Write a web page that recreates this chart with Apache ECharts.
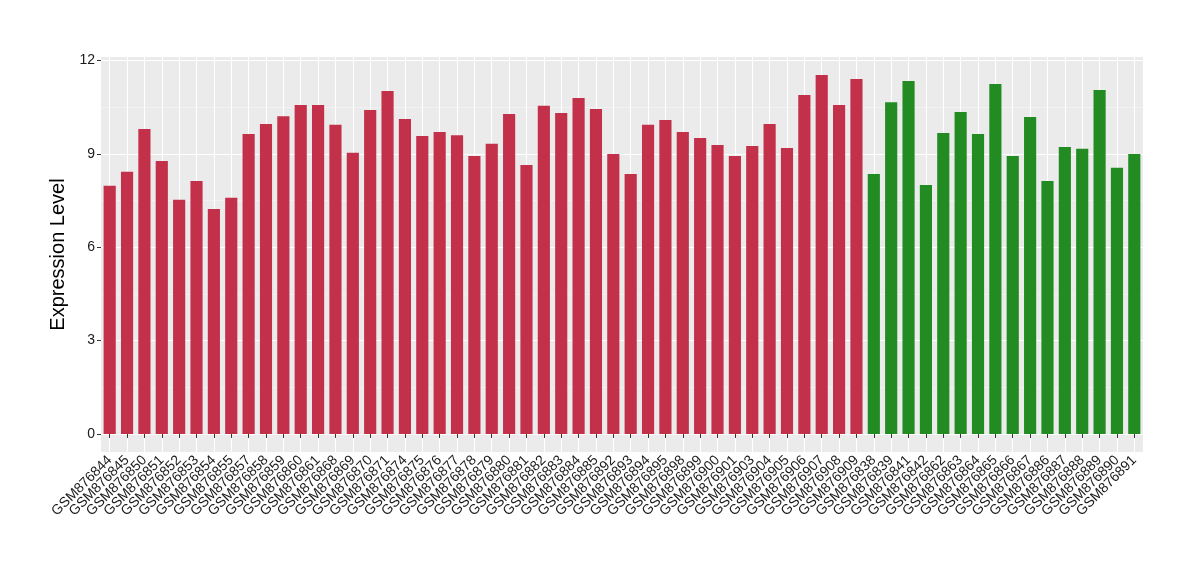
<!DOCTYPE html>
<html>
<head>
<meta charset="utf-8">
<script src="https://cdn.jsdelivr.net/npm/echarts@6/dist/echarts.min.js"></script>
<style>html,body{margin:0;padding:0;background:#fff}#c{width:1200px;height:580px}</style>
</head>
<body>
<div id="c"></div>
<script>
const redSamples = ["GSM876844","GSM876845","GSM876850","GSM876851","GSM876852","GSM876853","GSM876854","GSM876855","GSM876857","GSM876858","GSM876859","GSM876860","GSM876861","GSM876868","GSM876869","GSM876870","GSM876871","GSM876874","GSM876875","GSM876876","GSM876877","GSM876878","GSM876879","GSM876880","GSM876881","GSM876882","GSM876883","GSM876884","GSM876885","GSM876892","GSM876893","GSM876894","GSM876895","GSM876898","GSM876899","GSM876900","GSM876901","GSM876903","GSM876904","GSM876905","GSM876906","GSM876907","GSM876908","GSM876909"];
const redValues = [7.97,8.42,9.80,8.77,7.52,8.13,7.23,7.59,9.64,9.96,10.21,10.57,10.57,9.93,9.03,10.41,11.02,10.12,9.57,9.70,9.60,8.93,9.32,10.28,8.64,10.54,10.31,10.79,10.44,8.99,8.35,9.93,10.09,9.70,9.51,9.28,8.93,9.25,9.96,9.19,10.89,11.53,10.57,11.40];
const greenSamples = ["GSM876838","GSM876839","GSM876841","GSM876842","GSM876862","GSM876863","GSM876864","GSM876865","GSM876866","GSM876867","GSM876886","GSM876887","GSM876888","GSM876889","GSM876890","GSM876891"];
const greenValues = [8.35,10.66,11.34,8.00,9.67,10.34,9.64,11.24,8.93,10.18,8.13,9.22,9.16,11.05,8.55,8.99];
const yTicks = [0,3,6,9,12];
const yMinor = [1.5,4.5,7.5,10.5];
const yRange = [-0.58, 12.11];

const categories = redSamples.concat(greenSamples);
const redData = redValues.concat(greenValues.map(() => '-'));
const greenData = redValues.map(() => '-').concat(greenValues);

const chart = echarts.init(document.getElementById('c'));
const textColor = '#1A1A1A';
const font = 'Liberation Sans, Arial, sans-serif';
const gridWhite = {color: '#FFFFFF', width: 1.1, type: 'solid'};
chart.setOption({
  animation: false,
  grid: {left: 101, right: 57, top: 57, bottom: 128, show: true, backgroundColor: '#EBEBEB', borderWidth: 0},
  xAxis: {
    type: 'category', data: categories, boundaryGap: true,
    axisLine: {show: false},
    axisTick: {show: true, alignWithLabel: true, length: 4, lineStyle: {color: '#333333', width: 1}},
    splitLine: {show: false},
    axisLabel: {rotate: 45, interval: 0, margin: 6, fontSize: 14, color: textColor, fontFamily: font}
  },
  yAxis: {
    type: 'value', min: yRange[0], max: yRange[1],
    name: 'Expression Level', nameLocation: 'middle', nameGap: 24, nameRotate: 90,
    nameTextStyle: {fontSize: 20, color: '#000', fontFamily: font},
    axisLine: {show: false},
    axisTick: {show: true, length: 4, customValues: yTicks, lineStyle: {color: '#333333'}},
    axisLabel: {customValues: yTicks, margin: 6, fontSize: 14, color: textColor, fontFamily: font},
    splitLine: {show: false}
  },
  series: [
    {
      type: 'line', data: [], silent: true, z: 0, zlevel: 0,
      markLine: {
        silent: true, symbol: 'none', label: {show: false}, z: 0,
        data: yTicks.map(v => ({yAxis: v, lineStyle: gridWhite}))
          .concat(yMinor.map(v => ({yAxis: v, lineStyle: {color: '#F7F7F7', width: 0.6, type: 'solid'}})))
          .concat(categories.map(c => ({xAxis: c, lineStyle: gridWhite})))
      }
    },
    {type: 'bar', data: redData, stack: 'a', barWidth: '70%', itemStyle: {color: '#C3304A'}, z: 3},
    {type: 'bar', data: greenData, stack: 'a', barWidth: '70%', itemStyle: {color: '#228B22'}, z: 3}
  ]
});
</script>
</body>
</html>
